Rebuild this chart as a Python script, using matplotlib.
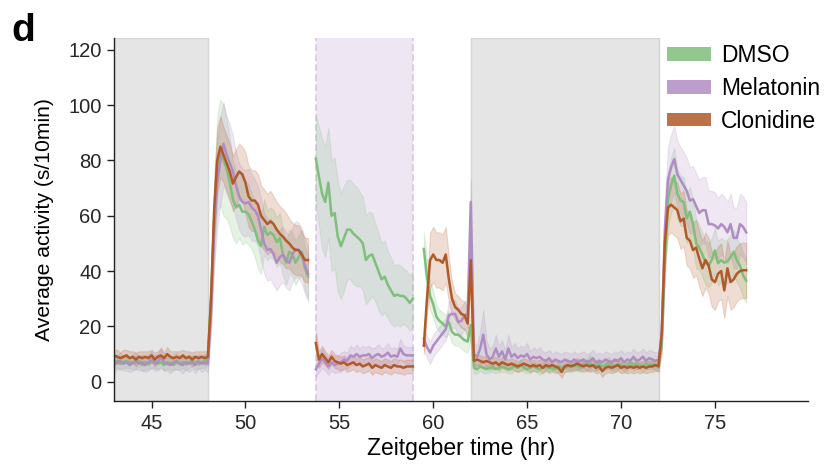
import numpy as np
import matplotlib
matplotlib.use("Agg")
import matplotlib.pyplot as plt
from matplotlib.patches import Patch

plt.rcParams['font.family'] = ['Liberation Sans', 'DejaVu Sans']

# ---------------- data ----------------
series_names = ["DMSO", "Melatonin", "Clonidine"]
series_colors = ["#7fbf7b", "#af8dc3", "#b15928"]

step_hr = 1 / 6  # 10-min bins
segA_start, segA_n = 43.0, 63
segB_start, segB_n = 53.75, 32
segC_start, segC_n = 59.5, 104

night_spans = [(43.0, 48.0), (62.0, 72.0)]
treat_spans = [(53.75, 58.92)]

# Segment A (43 - 53.3 h): night part + day part
dmso_A_night = [7, 7.5, 6.5, 7, 7.5, 7, 6.5, 7, 7.5, 6, 7, 6.5, 7, 7.5, 6.5, 7, 6, 7, 6.5, 6, 7, 6.5, 7, 6.5, 7, 7.5, 7, 6.5, 7, 7.5, 8]
dmso_A_day = [30, 58, 79, 83, 80, 77, 72, 66, 63, 64, 61.5, 61.5, 60.5, 58, 55, 51, 49, 56, 53, 54, 53, 50.5, 52, 46, 43, 47, 46, 43, 45, 47, 41, 38]
mel_A_night = [6, 7, 7.5, 6.5, 7, 6, 7, 7.5, 6.5, 7, 6, 7, 8, 6.5, 7, 9, 7, 6.5, 6, 7, 7.5, 6.5, 6, 7, 6.5, 7, 6, 7.5, 6.5, 7, 6.5]
mel_A_day = [25, 55, 72, 80, 86, 82, 79, 76, 71, 67, 65, 64.5, 65, 63, 62, 60, 55, 50, 47.6, 48, 46, 43, 45, 46, 44, 43, 46, 48, 47.6, 45.5, 42, 39]
clo_A_night = [9.5, 9, 8.5, 9, 9.5, 8.5, 9, 8, 9, 8.5, 9, 8.5, 9.5, 8, 9, 9.5, 8.5, 10, 9, 8.5, 9, 8.5, 9.5, 8.5, 9, 8, 9, 8.5, 9, 8.5, 9]
clo_A_day = [30, 62, 80, 85, 82, 79, 76, 71.6, 74, 76, 75, 72, 67, 65.5, 65.5, 64, 60, 58.5, 57, 58, 57, 55, 53.5, 52.4, 51, 50, 48.5, 47.6, 47.6, 46, 44, 44]

dmso_A_night_err = [2, 2.5, 2, 2, 2.5, 2, 2, 2.5, 2, 2, 2.5, 2, 2, 2.5, 2, 2, 2, 2.5, 2, 2, 2.5, 2, 2, 2.5, 2, 2, 2.5, 2, 2, 2.5, 2]
dmso_A_day_err = [8, 14, 17, 19, 20, 18, 16, 14, 13, 12, 12, 11, 11, 10, 10, 10, 10, 10, 9, 9, 9, 9, 9, 8, 8, 8, 8, 8, 8, 8, 8, 8]
mel_A_night_err = [3, 2.5, 3, 2.5, 3, 2.5, 3, 3, 2.5, 3, 2.5, 3, 3, 2.5, 3, 3.5, 3, 2.5, 3, 2.5, 3, 2.5, 3, 2.5, 3, 2.5, 3, 2.5, 3, 2.5, 3]
mel_A_day_err = [8, 14, 16, 16, 15, 14, 14, 13, 12, 12, 12, 12, 12, 12, 11, 11, 11, 11, 11, 11, 11, 10, 10, 10, 10, 10, 10, 10, 10, 10, 10, 10]
clo_A_night_err = [2, 2.5, 2, 2.5, 2, 2.5, 2, 2.5, 2, 2.5, 2, 2.5, 2, 2.5, 2, 2.5, 2, 2.5, 2, 2.5, 2, 2.5, 2, 2.5, 2, 2.5, 2, 2.5, 2, 2.5, 2]
clo_A_day_err = [8, 11, 12, 11, 10, 10, 10, 10, 10, 10, 10, 11, 11, 11, 11, 11, 11, 11, 11, 11, 10, 10, 10, 10, 10, 9, 9, 9, 9, 8, 8, 8]

# Segment B (53.75 - 58.92 h, treatment)
dmso_B = [80.7, 74, 68, 65, 72, 60, 61, 52.5, 49, 52, 55, 55, 53.5, 52.5, 51.5, 50, 44, 45.5, 46, 43, 40, 37, 38, 35, 33, 31, 31.5, 31, 31, 30, 28.5, 30]
mel_B = [4.5, 6.5, 8.5, 7, 5.5, 7, 6, 6.5, 7, 8, 7.5, 9.5, 9, 10, 9, 9.5, 9.5, 10, 8.5, 9.5, 10, 9, 9.5, 10.5, 9, 9.5, 9, 12, 10, 9.5, 9.5, 9.5]
clo_B = [14, 8, 10, 8.5, 7, 9, 7.5, 7, 6.5, 7, 6, 6.5, 7, 6, 6.5, 5.5, 6, 6.5, 5, 6, 5.5, 5, 6, 5.5, 5, 6, 5.5, 5.5, 5, 5.5, 5.5, 5.5]
dmso_B_err = [16, 18, 20, 20, 20, 20, 20, 20, 19, 19, 18, 18, 18, 18, 17, 17, 16, 16, 15, 14, 14, 13, 13, 12, 12, 11, 11, 11, 10, 10, 10, 10]
mel_B_err = [3, 3, 3.5, 3, 3, 3, 3, 3, 3.5, 3, 3, 3.5, 3, 3.5, 3, 3.5, 3, 3, 3.5, 3, 3.5, 3, 3, 3.5, 3, 3, 3, 3.5, 3, 3, 3, 3]
clo_B_err = [4, 3, 3, 2.5, 2.5, 2.5, 2.5, 2.5, 2.5, 2.5, 2.5, 2.5, 2.5, 2.5, 2.5, 2.5, 2.5, 2.5, 2.5, 2.5, 2.5, 2.5, 2.5, 2.5, 2.5, 2.5, 2.5, 2.5, 2.5, 2.5, 2.5, 2.5]

# Segment C (59.5 - 76.67 h): washout + night + day
dmso_C_wash = [48, 38, 31, 28, 23.5, 22, 21, 20, 21.5, 18, 17, 17, 16, 15, 14.5, 20.5]
dmso_C_night = [5, 4.5, 5.5, 5, 4.5, 5, 5.5, 4.5, 5, 5.5, 5, 4.5, 5, 5.5, 5, 6, 5, 4.5, 5, 5.5,
                5, 4.5, 5, 5.5, 5, 5, 4.5, 5.5, 5, 5, 5.5, 6, 5.5, 6, 5, 6.5, 6, 7, 5.5, 6,
                6.5, 5.5, 6, 7, 6, 5.5, 6.5, 6, 5.5, 6, 7, 6, 6.5, 6, 5.5, 6.5, 6, 6.5, 6, 6]
dmso_C_day = [13, 43, 66, 71, 74.5, 68, 65.5, 65, 59, 61.5, 57, 50, 48.5, 46, 43, 42, 44, 47.5, 42.8, 44, 43, 43.5, 45, 47, 44, 42, 38.5, 36.5]
mel_C_wash = [15.5, 12.5, 10.5, 13, 14.5, 16, 17.5, 19, 24, 24.5, 24.5, 21.5, 22, 24, 24.5, 65]
mel_C_night = [10, 9, 12, 17, 10, 8, 9, 12, 9, 11, 8, 12, 9, 10, 8.5, 9.5, 9, 10, 8, 9,
               8.5, 9, 8, 7.5, 8.5, 7, 8, 7.5, 7, 8, 7.5, 7, 8, 7, 7.5, 8, 7, 7.5, 8.5, 7,
               7.5, 7, 8, 7.5, 7, 8, 7.5, 8.5, 7, 8, 7.5, 9, 7.5, 8, 9, 7.5, 8.5, 8, 7.5, 8]
mel_C_day = [16, 55, 73, 77.5, 80.5, 75, 73, 71, 69, 65.5, 66, 63.5, 61, 62, 62, 57, 57, 56.5, 55.4, 57, 56, 54, 57, 52, 52, 57, 56, 54]
clo_C_wash = [13, 30, 44, 46, 44, 44, 43, 46, 37, 30, 27, 26, 24.5, 24, 21, 44]
clo_C_night = [7.5, 8, 7.5, 7, 7.5, 7, 6.5, 7, 6, 7, 6.5, 6, 6.5, 6, 5.5, 6, 6.5, 6, 5.5, 6,
               5.5, 6, 5, 6, 5.5, 6, 5.5, 5, 3.5, 5.5, 6, 5.5, 6, 6.5, 6, 5.5, 6, 5.5, 6, 5,
               5.5, 3.8, 5, 5.5, 5, 5.5, 6, 5, 5.5, 5, 5.5, 5, 5.5, 5, 5.5, 5, 5.5, 5.5, 6, 5.5]
clo_C_day = [17.5, 50, 63, 64, 63, 62, 58, 59, 52, 51, 47.6, 48.5, 44.5, 41, 44, 42, 37, 36, 39, 40, 33, 41, 36, 37, 39, 40, 40.3, 40.3]

dmso_C_wash_err = [6, 6, 5, 5, 4, 4, 4, 4, 4, 4, 4, 4, 4, 4, 4, 5]
dmso_C_night_err = [2, 1.5, 1.5, 2, 1.5, 1.5, 2, 1.5, 1.5, 2, 1.5, 1.5, 2, 1.5, 1.5, 2, 1.5, 1.5, 2, 1.5,
                    1.5, 2, 1.5, 1.5, 2, 1.5, 1.5, 2, 1.5, 1.5, 2, 1.5, 1.5, 2, 1.5, 2, 2, 3, 1.5, 2,
                    2, 1.5, 2, 2, 1.5, 2, 2, 1.5, 2, 2, 1.5, 2, 2, 1.5, 2, 2, 1.5, 2, 2, 2]
dmso_C_day_err = [4, 8, 10, 10, 10, 9, 9, 9, 9, 9, 9, 9, 8, 8, 8, 8, 8, 8, 8, 8, 8, 8, 8, 8, 8, 8, 8, 8]
mel_C_wash_err = [4, 4, 4, 4, 4, 4, 4, 4, 5, 5, 5, 5, 5, 5, 5, 8]
mel_C_night_err = [4, 4, 6, 9, 5, 4, 4, 5, 4, 4, 3.5, 5, 3.5, 4, 3.5, 3.5, 3.5, 4, 3, 3.5,
                   3, 3.5, 3, 3, 3, 3, 3, 3, 3, 3, 3, 3, 3, 3, 3, 3, 3, 3, 3, 3,
                   3, 3, 3, 3, 3, 3, 3, 3, 3, 3, 3, 3, 3, 3, 3, 3, 3, 3, 3, 3]
mel_C_day_err = [5, 10, 12, 12, 12, 12, 12, 12, 12, 12, 12, 12, 12, 12, 12, 12, 12, 12, 11, 11, 11, 11, 11, 11, 11, 11, 11, 11]
clo_C_wash_err = [3, 6, 10, 10, 10, 10, 10, 10, 8, 6, 5, 5, 5, 5, 5, 8]
clo_C_night_err = [2, 2, 2, 2, 2, 2, 2, 2, 2, 2, 2, 2, 2, 2, 2, 2, 2, 2, 2, 2,
                   2, 2, 2, 2, 2, 2, 2, 2, 2, 2, 2, 2, 2, 2, 2, 2, 2, 2, 2, 2,
                   2, 2, 2, 2, 2, 2, 2, 2, 2, 2, 2, 2, 2, 2, 2, 2, 2, 2, 2, 2]
clo_C_day_err = [4, 8, 10, 10, 10, 10, 10, 10, 10, 10, 10, 10, 10, 10, 10, 10, 10, 10, 10, 10, 10, 10, 10, 10, 10, 10, 10, 10]

# ---------------- assemble ----------------
tA = segA_start + np.arange(segA_n) * step_hr
tB = segB_start + np.arange(segB_n) * step_hr
tC = segC_start + np.arange(segC_n) * step_hr

means = {
    "DMSO": [dmso_A_night + dmso_A_day, dmso_B, dmso_C_wash + dmso_C_night + dmso_C_day],
    "Melatonin": [mel_A_night + mel_A_day, mel_B, mel_C_wash + mel_C_night + mel_C_day],
    "Clonidine": [clo_A_night + clo_A_day, clo_B, clo_C_wash + clo_C_night + clo_C_day],
}
errs = {
    "DMSO": [dmso_A_night_err + dmso_A_day_err, dmso_B_err, dmso_C_wash_err + dmso_C_night_err + dmso_C_day_err],
    "Melatonin": [mel_A_night_err + mel_A_day_err, mel_B_err, mel_C_wash_err + mel_C_night_err + mel_C_day_err],
    "Clonidine": [clo_A_night_err + clo_A_day_err, clo_B_err, clo_C_wash_err + clo_C_night_err + clo_C_day_err],
}
times = [tA, tB, tC]

# ---------------- plot ----------------
fig = plt.figure(figsize=(8.35, 4.67), dpi=100)
ax = fig.add_axes([0.1365, 0.1413, 0.831, 0.7773])

for a, b in night_spans:
    ax.axvspan(a, b, facecolor="#e5e5e5", edgecolor="#d4d4d4", lw=1.0, zorder=0)
for a, b in treat_spans:
    ax.axvspan(a, b, facecolor="#efe6f3", edgecolor="none", zorder=0)
    ax.axvline(a, color="#d8c6e6", lw=1.2, ls=(0, (4, 2)), zorder=0.5)
    ax.axvline(b, color="#d8c6e6", lw=1.2, ls=(0, (4, 2)), zorder=0.5)

for name, col in zip(series_names, series_colors):
    for t, m, e in zip(times, means[name], errs[name]):
        m = np.asarray(m, float)
        e = np.asarray(e, float)
        assert len(m) == len(t) == len(e), (name, len(m), len(t), len(e))
        ax.fill_between(t, m - e, m + e, color=col, alpha=0.2, lw=0.8, zorder=1)
        ax.plot(t, m, color=col, lw=1.8, zorder=2)

ax.set_xlim(43, 79.95)
ax.set_ylim(-7, 124.3)
ax.set_xticks([45, 50, 55, 60, 65, 70, 75])
ax.set_yticks([0, 20, 40, 60, 80, 100, 120])
for s in ["top", "right"]:
    ax.spines[s].set_visible(False)
for s in ["left", "bottom"]:
    ax.spines[s].set_linewidth(1.0)
    ax.spines[s].set_color("#222222")
ax.tick_params(axis="both", labelsize=14.5, length=5, width=1, color="#222222",
               labelcolor="#262626", pad=4)
ax.set_xlabel("Zeitgeber time (hr)", fontsize=16.5, labelpad=3)
ax.set_ylabel("Average activity (s/10min)", fontsize=15.2, labelpad=10)

handles = [Patch(facecolor=c, edgecolor="none", alpha=0.85) for c in series_colors]
fig.legend(handles, series_names, loc="upper left", bbox_to_anchor=(0.799, 0.905),
           frameon=False, fontsize=16.5, handlelength=1.9, handleheight=0.55,
           handletextpad=0.45, labelspacing=0.42, borderpad=0, borderaxespad=0)

fig.text(0.014, 0.912, "d", fontsize=28, fontweight="bold")

fig.savefig("out.png", dpi=100)
